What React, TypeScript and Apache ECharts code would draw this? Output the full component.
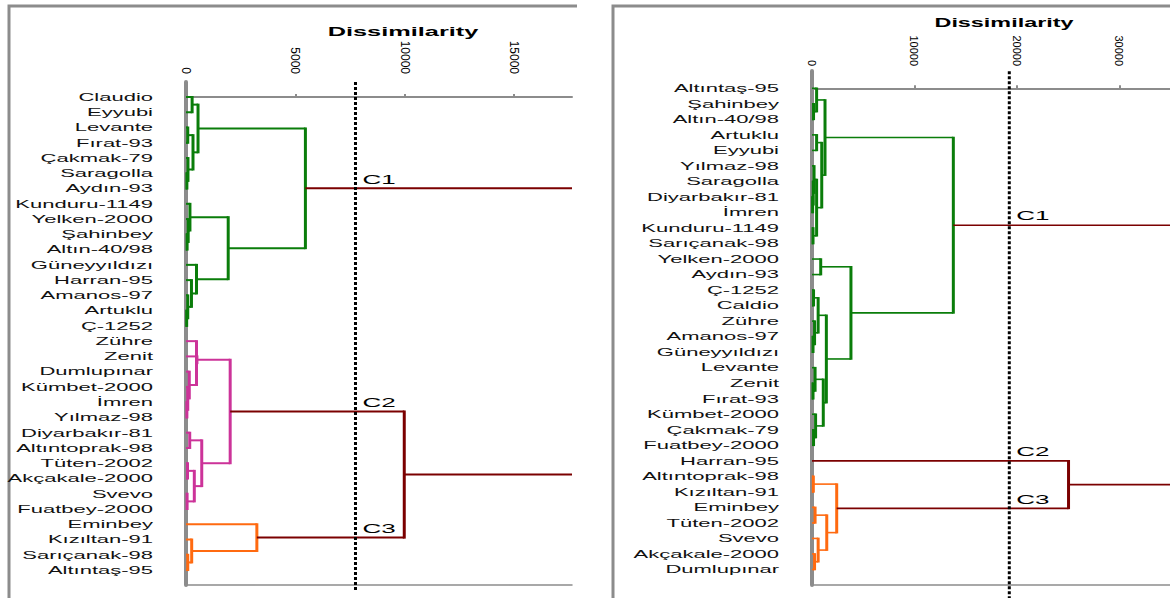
import React, { useEffect, useRef } from "react";
import * as echarts from "echarts";

// ---------- data ----------
const leftLeaves = ["Claudio", "Eyyubi", "Levante", "Fırat-93", "Çakmak-79", "Saragolla", "Aydın-93", "Kunduru-1149", "Yelken-2000", "Şahinbey", "Altın-40/98", "Güneyyıldızı", "Harran-95", "Amanos-97", "Artuklu", "Ç-1252", "Zühre", "Zenit", "Dumlupınar", "Kümbet-2000", "İmren", "Yılmaz-98", "Diyarbakır-81", "Altıntoprak-98", "Tüten-2002", "Akçakale-2000", "Svevo", "Fuatbey-2000", "Eminbey", "Kızıltan-91", "Sarıçanak-98", "Altıntaş-95"];

// [node id, child A, child B, dissimilarity, group]
const leftMerges: [string, string, string, number, string][] = [
  ["n1", "Saragolla", "Aydın-93", 40, "g"],
  ["n2", "Çakmak-79", "n1", 90, "g"],
  ["n3", "Levante", "Fırat-93", 80, "g"],
  ["n4", "n3", "n2", 320, "g"],
  ["n5", "Claudio", "Eyyubi", 280, "g"],
  ["n6", "n5", "n4", 550, "g"],
  ["n7", "Şahinbey", "Altın-40/98", 50, "g"],
  ["n8", "Yelken-2000", "n7", 100, "g"],
  ["n9", "Kunduru-1149", "n8", 180, "g"],
  ["n10", "Artuklu", "Ç-1252", 30, "g"],
  ["n11", "Amanos-97", "n10", 80, "g"],
  ["n12", "Harran-95", "n11", 250, "g"],
  ["n13", "Güneyyıldızı", "n12", 480, "g"],
  ["n14", "n9", "n13", 1930, "g"],
  ["n15", "n6", "n14", 5460, "g"],
  ["n16", "İmren", "Yılmaz-98", 40, "p"],
  ["n17", "Kümbet-2000", "n16", 80, "p"],
  ["n18", "Dumlupınar", "n17", 150, "p"],
  ["n19", "Zühre", "n18", 480, "p"],
  ["n20", "Zenit", "n19", 500, "p"],
  ["n21", "Diyarbakır-81", "Altıntoprak-98", 170, "p"],
  ["n22", "Tüten-2002", "Akçakale-2000", 70, "p"],
  ["n23", "Svevo", "Fuatbey-2000", 50, "p"],
  ["n24", "n22", "n23", 380, "p"],
  ["n25", "n21", "n24", 720, "p"],
  ["n26", "n20", "n25", 2020, "p"],
  ["n27", "Sarıçanak-98", "Altıntaş-95", 80, "o"],
  ["n28", "Kızıltan-91", "n27", 260, "o"],
  ["n29", "Eminbey", "n28", 3240, "o"],
  ["n30", "n26", "n29", 9980, "r"],
  ["n31", "n15", "n30", 30000, "r"],
];
const leftCut = 7750;
const leftClusters: [string, string][] = [["C1", "n15"], ["C2", "n26"], ["C3", "n29"]];
const leftTicks = { max: 17650, interval: 5000 };

const rightLeaves = ["Altıntaş-95", "Şahinbey", "Altın-40/98", "Artuklu", "Eyyubi", "Yılmaz-98", "Saragolla", "Diyarbakır-81", "İmren", "Kunduru-1149", "Sarıçanak-98", "Yelken-2000", "Aydın-93", "Ç-1252", "Caldio", "Zühre", "Amanos-97", "Güneyyıldızı", "Levante", "Zenit", "Fırat-93", "Kümbet-2000", "Çakmak-79", "Fuatbey-2000", "Harran-95", "Altıntoprak-98", "Kızıltan-91", "Eminbey", "Tüten-2002", "Svevo", "Akçakale-2000", "Dumlupınar"];

const rightMerges: [string, string, string, number, string][] = [
  ["m1", "Şahinbey", "Altın-40/98", 150, "g"],
  ["m2", "Altıntaş-95", "m1", 450, "g"],
  ["m3", "Artuklu", "Eyyubi", 450, "g"],
  ["m4", "Diyarbakır-81", "İmren", 60, "g"],
  ["m5", "Saragolla", "m4", 120, "g"],
  ["m6", "Yılmaz-98", "m5", 200, "g"],
  ["m7", "Kunduru-1149", "Sarıçanak-98", 100, "g"],
  ["m8", "m6", "m7", 450, "g"],
  ["m9", "m3", "m8", 950, "g"],
  ["m10", "m2", "m9", 1270, "g"],
  ["m11", "Yelken-2000", "Aydın-93", 850, "g"],
  ["m12", "Ç-1252", "Caldio", 150, "g"],
  ["m13", "Amanos-97", "Güneyyıldızı", 100, "g"],
  ["m14", "Zühre", "m13", 250, "g"],
  ["m15", "m12", "m14", 600, "g"],
  ["m16", "Zenit", "Fırat-93", 100, "g"],
  ["m17", "Levante", "m16", 300, "g"],
  ["m18", "Çakmak-79", "Fuatbey-2000", 150, "g"],
  ["m19", "Kümbet-2000", "m18", 350, "g"],
  ["m20", "m17", "m19", 1100, "g"],
  ["m21", "m15", "m20", 1400, "g"],
  ["m22", "m11", "m21", 3800, "g"],
  ["m23", "m10", "m22", 13790, "g"],
  ["o1", "Altıntoprak-98", "Kızıltan-91", 130, "o"],
  ["o2", "Eminbey", "Tüten-2002", 300, "o"],
  ["o3", "Akçakale-2000", "Dumlupınar", 250, "o"],
  ["o4", "Svevo", "o3", 600, "o"],
  ["o5", "o2", "o4", 1440, "o"],
  ["o6", "o1", "o5", 2410, "o"],
  ["r1", "Harran-95", "o6", 25030, "r"],
  ["r2", "m23", "r1", 60000, "r"],
];
const rightCut = 19250;
const rightClusters: [string, string][] = [["C1", "m23"], ["C2", "Harran-95"], ["C3", "o6"]];
const rightTicks = { max: 34930, interval: 10000 };

const groupColors: Record<string, string> = { g: "#0a7d0a", p: "#cc3399", o: "#ff6a10", r: "#7b0000" };

// ---------- helpers ----------
const FONT = '"Liberation Sans", Arial, sans-serif';

function layoutTree(leaves: string[], merges: [string, string, string, number, string][]) {
  const pos: Record<string, { y: number; h: number }> = {};
  leaves.forEach((n, i) => (pos[n] = { y: i, h: 0 }));
  const links: any[] = [];
  merges.forEach(([id, a, b, h, g]) => {
    const A = pos[a], B = pos[b];
    pos[id] = { y: (A.y + B.y) / 2, h };
    links.push({ value: [h, A.y, B.y, A.h, B.h], itemStyle: { color: groupColors[g] } });
  });
  return { pos, links };
}

function makeLinkRender(hw: number, vw: number) {
  return (params: any, api: any) => {
    const cs = params.coordSys;
    const xr = cs.x + cs.width;
    const h = api.value(0), y1 = api.value(1), y2 = api.value(2), h1 = api.value(3), h2 = api.value(4);
    const color = api.visual("color");
    const pT = api.coord([h, y1]);
    const pB = api.coord([h, y2]);
    const a = api.coord([h1, y1]);
    const b = api.coord([h2, y2]);
    const X = Math.min(pT[0], xr);
    const children: any[] = [
      { type: "line", shape: { x1: a[0], y1: pT[1], x2: X, y2: pT[1] }, style: { stroke: color, lineWidth: hw } },
      { type: "line", shape: { x1: b[0], y1: pB[1], x2: X, y2: pB[1] }, style: { stroke: color, lineWidth: hw } },
    ];
    if (pT[0] <= xr) {
      children.push({ type: "line", shape: { x1: X, y1: pT[1] - hw / 2, x2: X, y2: pB[1] + hw / 2 }, style: { stroke: color, lineWidth: vw } });
    }
    return { type: "group", children };
  };
}

function buildPanel(idx: number, leaves: string[], merges: any[], cut: number, clusters: [string, string][], yMax: number) {
  const { pos, links } = layoutTree(leaves, merges);
  const series: any[] = [
    {
      type: "custom",
      xAxisIndex: idx * 2,
      yAxisIndex: idx,
      renderItem: makeLinkRender(idx === 0 ? 2 : 1.6, 3),
      data: links,
      z: 3,
      silent: true,
    },
    {
      type: "custom",
      xAxisIndex: idx * 2,
      yAxisIndex: idx,
      data: leaves.map((n, i) => ({ name: n, value: [0, i] })),
      renderItem: (params: any, api: any) => {
        const p = api.coord([0, api.value(1)]);
        return {
          type: "text",
          x: p[0] - 33,
          y: p[1],
          scaleX: 2,
          style: { text: leaves[params.dataIndex], fill: "#111", fontSize: 11, fontFamily: FONT, align: "right", verticalAlign: "middle" },
        };
      },
      silent: true,
    },
    {
      type: "line",
      xAxisIndex: idx * 2,
      yAxisIndex: idx,
      data: [[cut, idx === 0 ? -0.98 : -1.1], [cut, yMax]],
      symbol: "none",
      clip: false,
      lineStyle: { color: "#000", width: 3, type: [3, 2] },
      z: 4,
      silent: true,
    },
    {
      type: "custom",
      xAxisIndex: idx * 2,
      yAxisIndex: idx,
      data: clusters.map(([lab, node]) => ({ name: lab, value: [cut, pos[node].y] })),
      renderItem: (params: any, api: any) => {
        const p = api.coord([api.value(0), api.value(1)]);
        return {
          type: "text",
          x: p[0] + 7,
          y: p[1] - 3,
          scaleX: 2,
          style: { text: clusters[params.dataIndex][0], fill: "#000", fontSize: 13, fontFamily: FONT, align: "left", verticalAlign: "bottom" },
        };
      },
      z: 5,
      silent: true,
    },
  ];
  return series;
}

function axisPair(gridIndex: number, ticks: { max: number; interval: number }, fontSize: number, margin: number) {
  return [
    {
      type: "value",
      gridIndex,
      position: "top",
      min: 0,
      max: ticks.max,
      interval: ticks.interval,
      axisLine: { show: true, lineStyle: { color: "#8c8c8c", width: 2 } },
      axisTick: { show: true, length: 3, lineStyle: { color: "#8c8c8c", width: 2 } },
      axisLabel: { rotate: -90, fontSize, color: "#000", fontFamily: FONT, margin, showMaxLabel: false, formatter: (v: number) => String(v) },
      splitLine: { show: false },
    },
    {
      type: "value",
      gridIndex,
      position: "bottom",
      min: 0,
      max: ticks.max,
      axisLine: { show: true, lineStyle: { color: "#8c8c8c", width: 1.5 } },
      axisTick: { show: false },
      axisLabel: { show: false },
      splitLine: { show: false },
    },
  ];
}

export default function App() {
  const ref = useRef<HTMLDivElement>(null);
  useEffect(() => {
    if (!ref.current) return;
    const chart = echarts.init(ref.current, undefined, { renderer: "svg" });
    const option: any = {
      animation: false,
      backgroundColor: "#fff",
      grid: [
        { left: 186, top: 82, width: 386, height: 503 },
        { left: 812, top: 71, width: 358, height: 514 },
      ],
      xAxis: [...axisPair(0, leftTicks, 12, 8), ...axisPair(1, rightTicks, 11, 5)],
      yAxis: [
        {
          type: "value", gridIndex: 0, inverse: true, min: -0.983, max: 31.98,
          axisLine: { show: true, lineStyle: { color: "#8c8c8c", width: 4 } },
          axisTick: { show: false }, axisLabel: { show: false }, splitLine: { show: false },
        },
        {
          type: "value", gridIndex: 1, inverse: true, min: -1.115, max: 32.0,
          axisLine: { show: true, lineStyle: { color: "#8c8c8c", width: 4 } },
          axisTick: { show: false }, axisLabel: { show: false }, splitLine: { show: false },
        },
      ],
      graphic: [
        { type: "polyline", shape: { points: [[9, 598], [9, 6], [577, 6]] }, style: { stroke: "#8c8c8c", lineWidth: 3, fill: null } },
        { type: "polyline", shape: { points: [[613, 598], [613, 6], [1170, 6]] }, style: { stroke: "#8c8c8c", lineWidth: 3, fill: null } },
        { type: "text", x: 403, y: 31, scaleX: 1.95, style: { text: "Dissimilarity", fontSize: 13, fontWeight: "bold", fontFamily: FONT, fill: "#000", align: "center", verticalAlign: "middle" } },
        { type: "text", x: 1004, y: 23, scaleX: 1.8, style: { text: "Dissimilarity", fontSize: 13, fontWeight: "bold", fontFamily: FONT, fill: "#000", align: "center", verticalAlign: "middle" } },
      ],
      series: [
        ...buildPanel(0, leftLeaves, leftMerges, leftCut, leftClusters, 32.4),
        ...buildPanel(1, rightLeaves, rightMerges, rightCut, rightClusters, 32.9),
      ],
    };
    chart.setOption(option);
    return () => chart.dispose();
  }, []);
  return <div ref={ref} style={{ position: "fixed", left: 0, top: 0, width: 1170, height: 598, background: "#fff" }} />;
}
